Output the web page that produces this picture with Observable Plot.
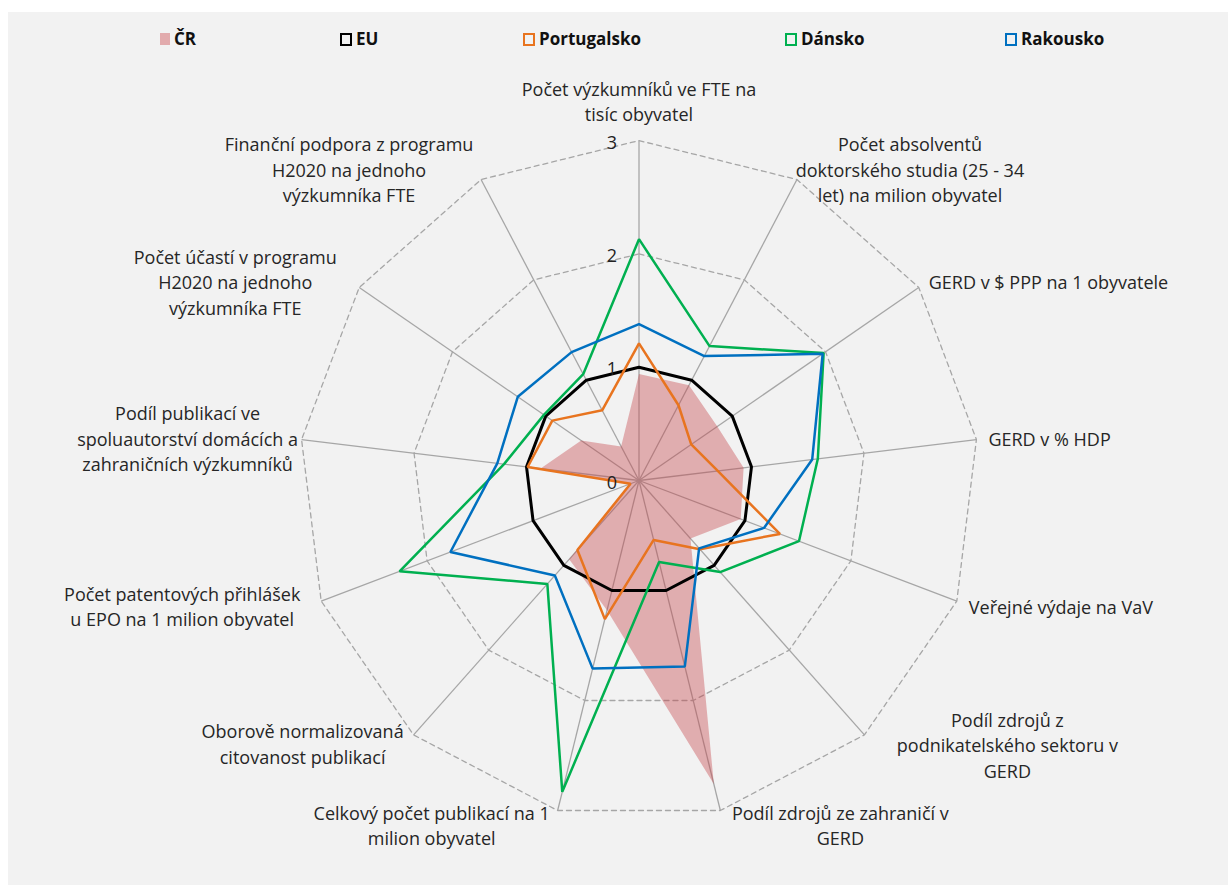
<!DOCTYPE html>
<html>
<head>
<meta charset="utf-8">
<script src="https://cdn.jsdelivr.net/npm/d3@7"></script>
<script src="https://cdn.jsdelivr.net/npm/@observablehq/plot@0.6"></script>
<style>
  html, body { margin: 0; padding: 0; background: #ffffff; }
  #frame { position: absolute; left: 8px; top: 12px; width: 1220px; height: 873px; background: #f2f2f2; overflow: hidden; }
  #legend { position: relative; height: 48px; font-family: "Open Sans", sans-serif; font-weight: 700; font-size: 17px; color: #111; }
  .item { position: absolute; top: 15px; height: 24px; line-height: 24px; white-space: nowrap; }
  .sw { display: inline-block; width: 8px; height: 9px; border: 2px solid; vertical-align: middle; margin-right: 4px; position: relative; top: -1px; }
  #chart svg { display: block; }
</style>
</head>
<body>
<div id="frame">
  <div id="legend"></div>
  <div id="chart"></div>
</div>
<script>
// ---- data ----
const kategorie = [
  "Počet výzkumníků ve FTE na\ntisíc obyvatel",
  "Počet absolventů\ndoktorského studia (25 - 34\nlet) na milion obyvatel",
  "GERD v $ PPP na 1 obyvatele",
  "GERD v % HDP",
  "Veřejné výdaje na VaV",
  "Podíl zdrojů z\npodnikatelského sektoru v\nGERD",
  "Podíl zdrojů ze zahraničí v\nGERD",
  "Celkový počet publikací na 1\nmilion obyvatel",
  "Oborově normalizovaná\ncitovanost publikací",
  "Počet patentových přihlášek\nu EPO na 1 milion obyvatel",
  "Podíl publikací ve\nspoluautorství domácích a\nzahraničních výzkumníků",
  "Počet účastí v programu\nH2020 na jednoho\nvýzkumníka FTE",
  "Finanční podpora z programu\nH2020 na jednoho\nvýzkumníka FTE"
];
const CR          = [0.94, 0.95, 0.84, 0.93, 0.96, 0.685, 2.76, 1.18, 0.93, 0.08, 0.875, 0.62, 0.34];
const EU          = [1, 1, 1, 1, 1, 1, 1, 1, 1, 1, 1, 1, 1];
const Portugalsko = [1.21, 0.75, 0.56, 0.70, 1.33, 0.81, 0.54, 1.26, 0.82, 0.08, 0.99, 0.93, 0.70];
const Dansko      = [2.13, 1.34, 1.98, 1.59, 1.51, 1.08, 0.74, 2.83, 1.22, 2.26, 1.20, 1.02, 1.06];
const Rakousko    = [1.38, 1.24, 1.97, 1.54, 1.18, 0.80, 1.69, 1.71, 1.12, 1.78, 1.26, 1.30, 1.28];
const ticks = [0, 1, 2, 3];
const seriesNames = ["ČR", "EU", "Portugalsko", "Dánsko", "Rakousko"];

// ---- styles / layout ----
const colors = { "ČR": "#c6474b", "EU": "#000000", "Portugalsko": "#e8741f", "Dánsko": "#00b050", "Rakousko": "#0070c0" };
const legendLeft = [152, 332, 515, 777, 997];
// per-label placement relative to the end of each spoke: [textAnchor, dx, dy]
const labelLayout = [
  ["middle", 0, -40], ["middle", 113, -11], ["start", 10, -6], ["start", 12, -2], ["start", 12, 4.5],
  ["middle", 143, 9.5], ["middle", 120, 14], ["middle", -126, 14], ["middle", -111, 8],
  ["middle", -139, 4.5], ["middle", -114, -2], ["middle", -124, -6], ["middle", -132, -11]
];

// ---- legend ----
const legend = document.getElementById("legend");
seriesNames.forEach((name, i) => {
  const it = document.createElement("div");
  it.className = "item";
  it.style.left = legendLeft[i] + "px";
  const sw = document.createElement("span");
  sw.className = "sw";
  if (name === "ČR") { sw.style.border = "none"; sw.style.width = "10px"; sw.style.height = "12px"; sw.style.background = "#e2abad"; }
  else sw.style.borderColor = colors[name];
  it.appendChild(sw);
  it.appendChild(document.createTextNode(name));
  legend.appendChild(it);
});

// ---- geometry via scales ----
const n = kategorie.length;
const ang = i => i * 2 * Math.PI / n;
const px = (v, i) => v * Math.sin(ang(i));
const py = (v, i) => v * Math.cos(ang(i));
const rows = (name, vals) => vals.map((v, i) => ({ name, i, x: px(v, i), y: py(v, i) }));

const ringRows = ticks.filter(t => t > 0).flatMap(t => kategorie.map((_, i) => ({ t, x: px(t, i), y: py(t, i) })));
const maxT = d3.max(ticks);

const W = 1220, H = 825, cx = 630.5, cy = 420, unit = 113.3;

const lineOpts = (name, w) => ({ x: "x", y: "y", curve: "linear-closed", stroke: colors[name], strokeWidth: w, strokeLinejoin: "miter" });

const marks = [
  Plot.line(ringRows, { x: "x", y: "y", z: "t", curve: "linear-closed", stroke: "#a6a6a6", strokeWidth: 1.3, strokeDasharray: "5,4" }),
  Plot.link(kategorie.map((_, i) => i), { x1: 0, y1: 0, x2: i => px(maxT, i), y2: i => py(maxT, i), stroke: "#a6a6a6", strokeWidth: 1.3 }),
  Plot.line(rows("ČR", CR), { x: "x", y: "y", curve: "linear-closed", fill: colors["ČR"], fillOpacity: 0.4, stroke: "none" }),
  Plot.line(rows("EU", EU), lineOpts("EU", 3)),
  Plot.line(rows("Portugalsko", Portugalsko), lineOpts("Portugalsko", 2.5)),
  Plot.line(rows("Dánsko", Dansko), lineOpts("Dánsko", 2.5)),
  Plot.line(rows("Rakousko", Rakousko), lineOpts("Rakousko", 2.5)),
  Plot.text(ticks, { x: 0, y: d => d, text: d => String(d), textAnchor: "end", dx: -22, dy: 2.5, fontSize: 18, fill: "#222" }),
  ...kategorie.map((lab, i) => Plot.text([lab], {
    x: () => px(maxT, i), y: () => py(maxT, i), text: d => d,
    textAnchor: labelLayout[i][0], dx: labelLayout[i][1], dy: labelLayout[i][2],
    fontSize: 18, lineHeight: 1.4, fill: "#262626"
  }))
];

const chart = Plot.plot({
  width: W, height: H, margin: 0,
  x: { domain: [-cx / unit, (W - cx) / unit], range: [0, W], axis: null },
  y: { domain: [-(H - cy) / unit, cy / unit], range: [H, 0], axis: null },
  style: { background: "transparent", fontFamily: "'Open Sans', sans-serif", overflow: "visible" },
  marks
});
document.getElementById("chart").appendChild(chart);
</script>
</body>
</html>
